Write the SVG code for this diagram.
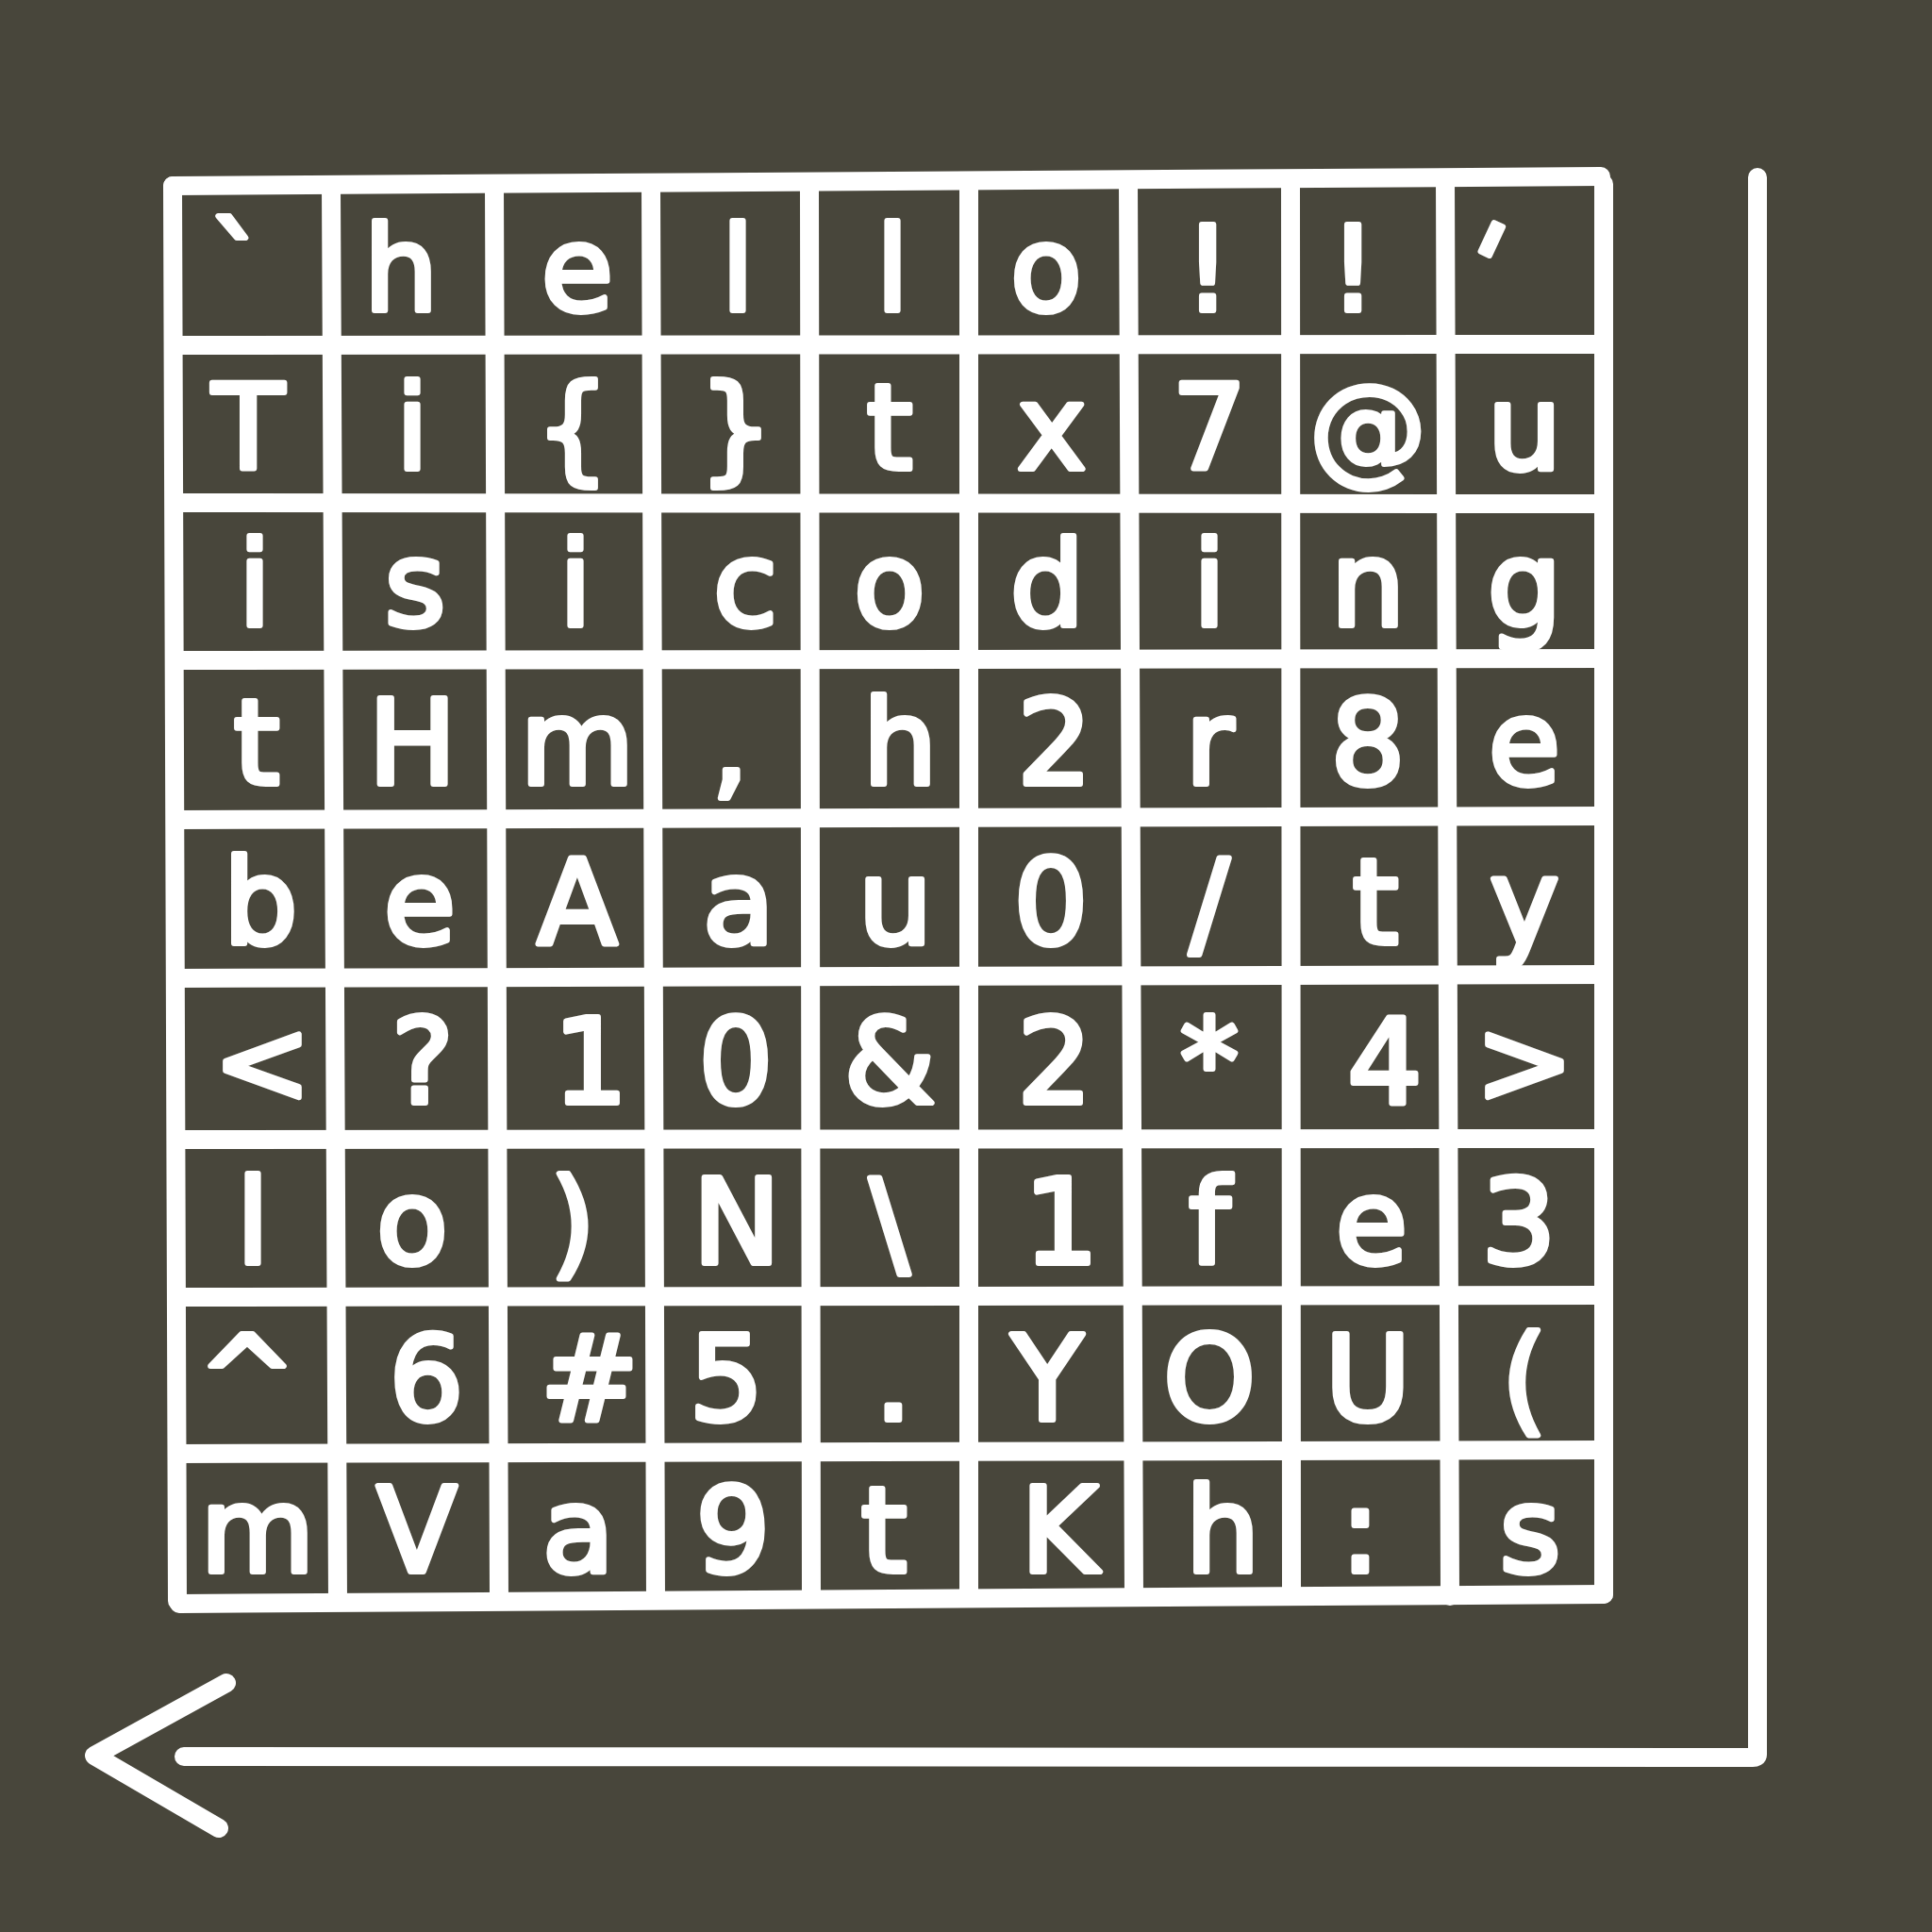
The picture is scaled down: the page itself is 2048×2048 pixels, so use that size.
<svg xmlns="http://www.w3.org/2000/svg" width="2048" height="2048" viewBox="0 0 2048 2048">
<style>
.ln{stroke:#ffffff;stroke-width:20;stroke-linecap:round;stroke-linejoin:round;fill:none}
.ch{font-family:"DejaVu Sans",sans-serif;font-size:124px;fill:#ffffff;stroke:#ffffff;stroke-width:6;stroke-linejoin:round;text-anchor:middle}
</style>
<rect x="0" y="0" width="2048" height="2048" fill="#48463b"/>
<g id="grid" class="ln">
<path d="M183,197 L1697,187"/>
<path d="M1700,195 L1700,1690"/>
<path d="M190,1700 L1700,1690"/>
<path d="M183,197 L188,1697"/>
<path d="M351,197 L358,1697"/>
<path d="M524,196 L529,1697"/>
<path d="M690,195 L695,1696"/>
<path d="M858,194 L860,1695"/>
<path d="M1027,193 L1027,1694"/>
<path d="M1196,192 L1202,1693"/>
<path d="M1368,191 L1369,1692"/>
<path d="M1532,190 L1537,1692"/>
<path d="M186,366 L1700,365"/>
<path d="M186,533 L1700,534"/>
<path d="M186,700 L1700,698"/>
<path d="M186,869 L1700,865"/>
<path d="M186,1037 L1700,1033"/>
<path d="M187,1208 L1700,1207"/>
<path d="M187,1375 L1700,1373"/>
<path d="M188,1541 L1700,1537"/>
</g>
<g id="r1">
<g id="c1-1"><text class="ch" x="252" y="329">`</text></g>
<g id="c1-2"><text class="ch" x="425" y="329">h</text></g>
<g id="c1-3"><text class="ch" x="612" y="329">e</text></g>
<g id="c1-4"><text class="ch" x="782" y="329">l</text></g>
<g id="c1-5"><text class="ch" x="946" y="329">l</text></g>
<g id="c1-6"><text class="ch" x="1109" y="329">o</text></g>
<g id="c1-7"><text class="ch" x="1280" y="329">!</text></g>
<g id="c1-8"><text class="ch" x="1434" y="329">!</text></g>
<g id="c1-9"><text class="ch" x="1590" y="329" transform="rotate(25 1590 235)">'</text></g>
</g>
<g id="r2">
<g id="c2-1"><text class="ch" x="263" y="497">T</text></g>
<g id="c2-2"><text class="ch" x="437" y="497">i</text></g>
<g id="c2-3"><text class="ch" x="607" y="497">{</text></g>
<g id="c2-4"><text class="ch" x="780" y="497">}</text></g>
<g id="c2-5"><text class="ch" x="943" y="497">t</text></g>
<g id="c2-6"><text class="ch" x="1115" y="497">x</text></g>
<g id="c2-7"><text class="ch" x="1282" y="497">7</text></g>
<g id="c2-8"><text class="ch" x="1450" y="497">@</text></g>
<g id="c2-9"><text class="ch" x="1616" y="497">u</text></g>
</g>
<g id="r3">
<g id="c3-1"><text class="ch" x="270" y="663">i</text></g>
<g id="c3-2"><text class="ch" x="440" y="663">s</text></g>
<g id="c3-3"><text class="ch" x="610" y="663">i</text></g>
<g id="c3-4"><text class="ch" x="790" y="663">c</text></g>
<g id="c3-5"><text class="ch" x="943" y="663">o</text></g>
<g id="c3-6"><text class="ch" x="1110" y="663">d</text></g>
<g id="c3-7"><text class="ch" x="1282" y="663">i</text></g>
<g id="c3-8"><text class="ch" x="1450" y="663">n</text></g>
<g id="c3-9"><text class="ch" x="1616" y="663">g</text></g>
</g>
<g id="r4">
<g id="c4-1"><text class="ch" x="272" y="831">t</text></g>
<g id="c4-2"><text class="ch" x="437" y="831">H</text></g>
<g id="c4-3"><text class="ch" x="612" y="831">m</text></g>
<g id="c4-4"><text class="ch" x="774" y="831">,</text></g>
<g id="c4-5"><text class="ch" x="954" y="831">h</text></g>
<g id="c4-6"><text class="ch" x="1118" y="831">2</text></g>
<g id="c4-7"><text class="ch" x="1282" y="831">r</text></g>
<g id="c4-8"><text class="ch" x="1450" y="831">8</text></g>
<g id="c4-9"><text class="ch" x="1616" y="831">e</text></g>
</g>
<g id="r5">
<g id="c5-1"><text class="ch" x="276" y="1000">b</text></g>
<g id="c5-2"><text class="ch" x="445" y="1000">e</text></g>
<g id="c5-3"><text class="ch" x="612" y="1000">A</text></g>
<g id="c5-4"><text class="ch" x="783" y="1000">a</text></g>
<g id="c5-5"><text class="ch" x="949" y="1000">u</text></g>
<g id="c5-6"><text class="ch" x="1114" y="1000">0</text></g>
<g id="c5-7"><text class="ch" x="1282" y="1000">/</text></g>
<g id="c5-8"><text class="ch" x="1458" y="1000">t</text></g>
<g id="c5-9"><text class="ch" x="1616" y="1000">y</text></g>
</g>
<g id="r6">
<g id="c6-1"><text class="ch" x="278" y="1169">&lt;</text></g>
<g id="c6-2"><text class="ch" x="448" y="1169">?</text></g>
<g id="c6-3"><text class="ch" x="626" y="1169">1</text></g>
<g id="c6-4"><text class="ch" x="780" y="1169">0</text></g>
<g id="c6-5"><text class="ch" x="943" y="1169">&amp;</text></g>
<g id="c6-6"><text class="ch" x="1118" y="1169">2</text></g>
<g id="c6-7"><text class="ch" x="1282" y="1169">*</text></g>
<g id="c6-8"><text class="ch" x="1468" y="1169">4</text></g>
<g id="c6-9"><text class="ch" x="1616" y="1169">&gt;</text></g>
</g>
<g id="r7">
<g id="c7-1"><text class="ch" x="268" y="1339">l</text></g>
<g id="c7-2"><text class="ch" x="437" y="1339">o</text></g>
<g id="c7-3"><text class="ch" x="607" y="1339">)</text></g>
<g id="c7-4"><text class="ch" x="781" y="1339">N</text></g>
<g id="c7-5"><text class="ch" x="943" y="1339">\</text></g>
<g id="c7-6"><text class="ch" x="1125" y="1339">1</text></g>
<g id="c7-7"><text class="ch" x="1282" y="1339">f</text></g>
<g id="c7-8"><text class="ch" x="1454" y="1339">e</text></g>
<g id="c7-9"><text class="ch" x="1610" y="1339">3</text></g>
</g>
<g id="r8">
<g id="c8-1"><text class="ch" x="262" y="1505">^</text></g>
<g id="c8-2"><text class="ch" x="452" y="1505">6</text></g>
<g id="c8-3"><text class="ch" x="625" y="1505">#</text></g>
<g id="c8-4"><text class="ch" x="770" y="1505">5</text></g>
<g id="c8-5"><text class="ch" x="947" y="1505">.</text></g>
<g id="c8-6"><text class="ch" x="1110" y="1505">Y</text></g>
<g id="c8-7"><text class="ch" x="1282" y="1505">O</text></g>
<g id="c8-8"><text class="ch" x="1450" y="1505">U</text></g>
<g id="c8-9"><text class="ch" x="1616" y="1505">(</text></g>
</g>
<g id="r9">
<g id="c9-1"><text class="ch" x="273" y="1666">m</text></g>
<g id="c9-2"><text class="ch" x="442" y="1666">V</text></g>
<g id="c9-3"><text class="ch" x="613" y="1666">a</text></g>
<g id="c9-4"><text class="ch" x="777" y="1666">9</text></g>
<g id="c9-5"><text class="ch" x="937" y="1666">t</text></g>
<g id="c9-6"><text class="ch" x="1123" y="1666">K</text></g>
<g id="c9-7"><text class="ch" x="1296" y="1666">h</text></g>
<g id="c9-8"><text class="ch" x="1442" y="1666">:</text></g>
<g id="c9-9"><text class="ch" x="1622" y="1666">s</text></g>
</g>
<g id="connectors" class="ln">
<path d="M1863,188 L1863,1860 Q1863,1863 1858,1863 L195,1862"/>
<path d="M240,1784 L100,1861 L232,1938"/>
</g>
</svg>
